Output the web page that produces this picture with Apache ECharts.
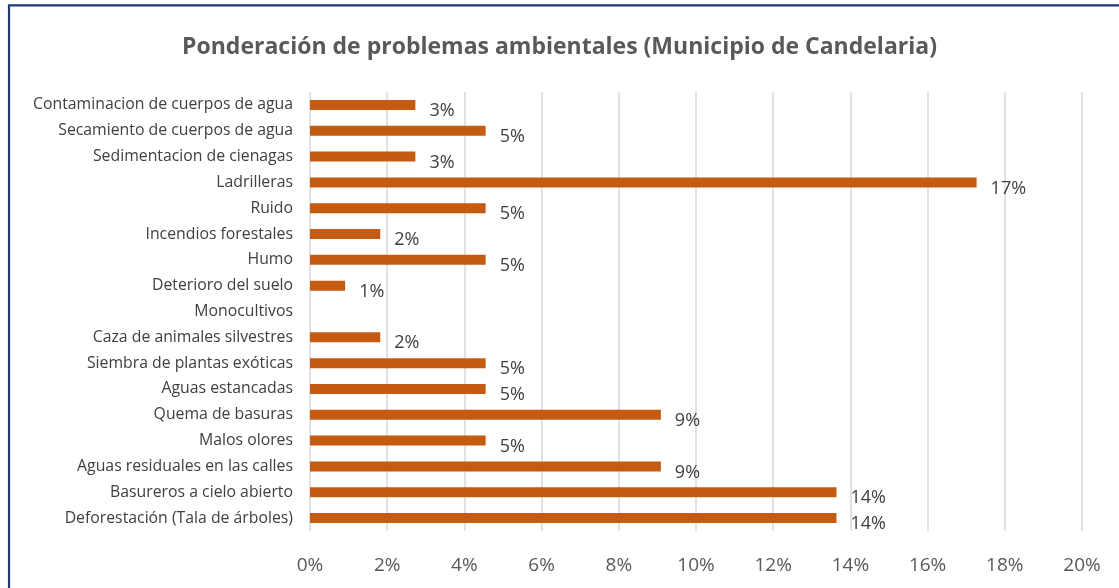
<!DOCTYPE html>
<html>
<head>
<meta charset="utf-8">
<script src="https://cdn.jsdelivr.net/npm/echarts@6/dist/echarts.min.js"></script>
<style>
html,body{margin:0;padding:0;background:#fff;}
#c{width:1119px;height:588px;}
</style>
</head>
<body>
<div id="c"></div>
<script>
const title = 'Ponderación de problemas ambientales (Municipio de Candelaria)';
const categories = [
  'Contaminacion de cuerpos de agua',
  'Secamiento de cuerpos de agua',
  'Sedimentacion de cienagas',
  'Ladrilleras',
  'Ruido',
  'Incendios forestales',
  'Humo',
  'Deterioro del suelo',
  'Monocultivos',
  'Caza de animales silvestres',
  'Siembra de plantas exóticas',
  'Aguas estancadas',
  'Quema de basuras',
  'Malos olores',
  'Aguas residuales en las calles',
  'Basureros a cielo abierto',
  'Deforestación (Tala de árboles)'
];
const values = [2.73, 4.55, 2.73, 17.27, 4.55, 1.82, 4.55, 0.91, 0, 1.82, 4.55, 4.55, 9.09, 4.55, 9.09, 13.64, 13.64];
const xTicks = [0, 2, 4, 6, 8, 10, 12, 14, 16, 18, 20];

const font = 'Open Sans';
const chart = echarts.init(document.getElementById('c'), null, {renderer: 'canvas'});
chart.setOption({
  animation: false,
  backgroundColor: '#ffffff',
  title: {
    text: title,
    left: 'center',
    top: 31,
    textStyle: {fontFamily: font, fontSize: 23, fontWeight: 'bold', color: '#595959'}
  },
  graphic: [{
    type: 'rect',
    shape: {x: 9, y: 5.3, width: 1300, height: 800},
    style: {fill: 'none', stroke: '#1f3a70', lineWidth: 2.2},
    silent: true
  }],
  grid: {left: 310, right: 37, top: 92, bottom: 57, containLabel: false},
  xAxis: {
    type: 'value',
    min: xTicks[0],
    max: xTicks[xTicks.length - 1],
    interval: 2,
    axisLine: {show: false},
    axisTick: {show: false},
    splitLine: {show: true, lineStyle: {color: '#d9d9d9', width: 1.5}},
    axisLabel: {
      fontFamily: font, fontSize: 19, color: '#595959', margin: 25,
      formatter: v => v + '%'
    }
  },
  yAxis: {
    type: 'category',
    data: categories,
    inverse: true,
    axisLine: {show: false},
    axisTick: {show: false},
    axisLabel: {fontFamily: font, fontSize: 15.8, color: '#404040', margin: 17}
  },
  series: [{
    type: 'bar',
    data: values,
    barWidth: 10,
    itemStyle: {color: '#c55a11'},
    label: {
      show: true,
      position: 'right',
      distance: 14,
      offset: [0, 6],
      fontFamily: font,
      fontSize: 18,
      color: '#404040',
      formatter: p => p.value > 0 ? Math.round(p.value) + '%' : ''
    }
  }]
});
</script>
</body>
</html>
